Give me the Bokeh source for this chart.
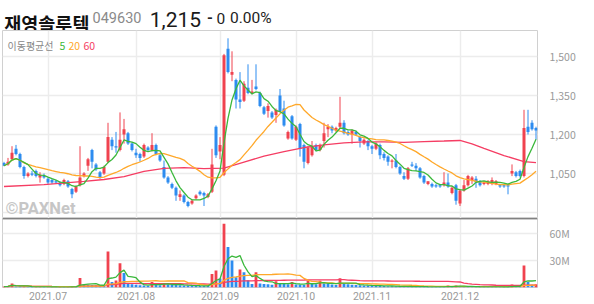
import numpy as np
import pandas as pd
from bokeh.plotting import figure
from bokeh.layouts import column
from bokeh.models import Range1d, FixedTicker, Span, ColumnDataSource, NumeralTickFormatter
from bokeh.core.properties import value
from bokeh.embed import file_html
from bokeh.resources import INLINE

# ---------------- data ----------------
stock_name = "재영솔루텍"
stock_code = "049630"
last_price = "1,215"
change_sign = "-"
change_abs = "0"
change_pct = "0.00%"
legend_title = "이동평균선"
ma_labels = ["5", "20", "60"]
watermark = "©PAXNet"

krx_holidays = ["2021-08-16", "2021-09-20", "2021-09-21", "2021-09-22",
                "2021-10-04", "2021-10-11"]
dates = pd.bdate_range("2021-06-16", "2021-12-28", freq="C", holidays=krx_holidays)

opens = [1090, 1085, 1105, 1145, 1125, 1075, 1040, 1050, 1060, 1035,
         1040, 1030, 1025, 1020, 1015, 1010, 1020, 990, 980, 1005,
         1040, 1080, 1140, 1085, 1055, 1050, 1095, 1180, 1155, 1140,
         1200, 1205, 1165, 1130, 1125, 1115, 1150, 1140, 1160, 1120,
         1075, 1035, 1010, 995, 960, 965, 940, 935, 955, 980,
         975, 960, 980, 1230, 1135, 1045, 1530, 1430, 1410, 1335,
         1330, 1380, 1360, 1385, 1360, 1305, 1290, 1285, 1275, 1350,
         1300, 1185, 1270, 1180, 1240, 1160, 1090, 1120, 1160, 1140,
         1175, 1220, 1230, 1215, 1230, 1245, 1210, 1200, 1210, 1190,
         1165, 1175, 1155, 1145, 1160, 1125, 1115, 1095, 1100, 1075,
         1040, 1030, 1085, 1080, 1070, 1040, 1010, 1010, 1005, 1005,
         1005, 1015, 975, 1005, 935, 985, 1005, 1025, 1030, 1020,
         1010, 1010, 1010, 1010, 1005, 1005, 1005, 1050, 1055, 1060,
         1040, 1230, 1245, 1225]
highs = [1095, 1110, 1155, 1160, 1130, 1080, 1055, 1060, 1065, 1055,
         1050, 1035, 1030, 1025, 1020, 1030, 1025, 995, 1005, 1155,
         1055, 1110, 1145, 1090, 1060, 1080, 1245, 1190, 1210, 1285,
         1260, 1210, 1170, 1145, 1130, 1165, 1155, 1205, 1165, 1125,
         1100, 1040, 1015, 1000, 985, 970, 945, 950, 970, 985,
         980, 975, 1145, 1235, 1190, 1510, 1570, 1520, 1415, 1440,
         1405, 1470, 1410, 1470, 1365, 1310, 1320, 1290, 1300, 1375,
         1330, 1215, 1275, 1235, 1245, 1165, 1155, 1175, 1165, 1165,
         1245, 1240, 1235, 1230, 1345, 1255, 1215, 1220, 1215, 1195,
         1185, 1180, 1160, 1170, 1165, 1132, 1120, 1105, 1125, 1080,
         1055, 1075, 1095, 1090, 1075, 1045, 1020, 1015, 1010, 1010,
         1055, 1050, 1000, 1010, 990, 1025, 1045, 1040, 1040, 1025,
         1020, 1025, 1035, 1025, 1010, 1010, 1010, 1085, 1060, 1065,
         1295, 1295, 1255, 1230]
lows = [1078, 1080, 1100, 1120, 1070, 1030, 1035, 1040, 1035, 1015,
        1030, 1010, 1010, 1010, 1000, 1005, 995, 955, 975, 1000,
        1035, 1060, 1070, 1060, 1030, 1045, 1090, 1140, 1130, 1135,
        1165, 1160, 1135, 1110, 1095, 1110, 1135, 1135, 1120, 1095,
        1030, 1010, 990, 945, 945, 935, 920, 930, 950, 965,
        925, 955, 975, 1110, 1105, 1040, 1435, 1405, 1300, 1300,
        1325, 1355, 1355, 1370, 1305, 1275, 1265, 1260, 1245, 1285,
        1230, 1180, 1180, 1175, 1115, 1070, 1085, 1115, 1135, 1135,
        1150, 1190, 1205, 1210, 1225, 1200, 1195, 1165, 1195, 1150,
        1160, 1140, 1125, 1140, 1105, 1100, 1080, 1070, 1070, 1045,
        1025, 1025, 1075, 1060, 1030, 1010, 1005, 995, 995, 995,
        1000, 995, 970, 930, 925, 980, 1000, 1010, 995, 1000,
        1005, 1005, 1005, 1005, 995, 995, 970, 1040, 1035, 1035,
        1035, 1200, 1215, 1180]
closes = [1080, 1095, 1130, 1125, 1075, 1040, 1050, 1045, 1040, 1045,
          1035, 1015, 1015, 1015, 1005, 1025, 1000, 970, 1000, 1035,
          1050, 1105, 1095, 1065, 1035, 1075, 1190, 1155, 1150, 1180,
          1220, 1165, 1140, 1120, 1110, 1160, 1140, 1160, 1125, 1100,
          1035, 1015, 995, 965, 970, 940, 925, 945, 965, 970,
          965, 970, 1085, 1120, 1160, 1505, 1440, 1440, 1335, 1325,
          1395, 1360, 1365, 1375, 1310, 1280, 1310, 1265, 1295, 1290,
          1235, 1210, 1185, 1230, 1145, 1095, 1150, 1155, 1140, 1160,
          1205, 1230, 1215, 1225, 1245, 1205, 1200, 1215, 1200, 1175,
          1180, 1155, 1145, 1165, 1120, 1110, 1095, 1100, 1075, 1050,
          1030, 1070, 1080, 1070, 1035, 1015, 1020, 1000, 1000, 1000,
          1015, 1000, 995, 945, 985, 1005, 1040, 1035, 1015, 1005,
          1015, 1020, 1025, 1020, 1000, 1000, 1000, 1060, 1040, 1040,
          1225, 1210, 1220, 1215]
volumes_m = [1.0, 1.5, 4.5, 1.2, 1.0, 1.2, 0.6, 0.5, 0.6, 0.8,
             0.5, 0.6, 0.4, 0.4, 0.5, 0.5, 0.6, 0.8, 0.7, 10.5,
             3.2, 3.0, 2.8, 2.5, 2.2, 2.0, 40.0, 6.0, 7.8, 27.0,
             16.0, 4.8, 3.5, 3.0, 2.5, 2.2, 2.0, 6.0, 3.0, 2.5,
             4.8, 3.5, 3.0, 2.8, 2.5, 2.3, 2.1, 2.0, 1.9, 1.8,
             1.7, 1.6, 15.0, 19.0, 10.0, 71.0, 45.0, 30.0, 11.5, 20.0,
             17.0, 8.0, 4.0, 17.0, 4.5, 3.8, 3.5, 3.0, 7.0, 4.5,
             3.8, 3.5, 6.0, 3.2, 3.0, 2.8, 7.8, 4.0, 3.5, 7.5,
             4.5, 3.8, 3.2, 2.8, 10.4, 4.5, 3.5, 3.0, 2.8, 2.5,
             2.3, 2.2, 2.0, 1.9, 1.8, 1.6, 1.5, 1.4, 1.3, 1.2,
             1.1, 1.0, 0.9, 0.9, 0.8, 0.8, 0.7, 0.7, 0.6, 0.6,
             0.6, 2.2, 1.0, 2.2, 1.2, 1.0, 0.9, 0.8, 0.8, 0.7,
             0.7, 0.6, 0.6, 0.6, 0.5, 0.5, 0.5, 3.3, 1.5, 1.2,
             24.4, 6.0, 3.0, 3.5]
ma60_idx = [0, 10, 20, 25, 30, 35, 40, 45, 50, 55, 60, 65, 70, 75, 80, 85,
            90, 95, 100, 105, 110, 114, 117, 120, 125, 130, 133]
ma60_val = [1000, 1007, 1020, 1027, 1038, 1058, 1070, 1073, 1069, 1071, 1094,
            1117, 1134, 1150, 1160, 1168, 1172, 1172, 1170, 1173, 1175, 1177,
            1164, 1147, 1119, 1096, 1092]

price_ticks = [900, 1050, 1200, 1350, 1500]
vol_ticks = [30, 60]

# ---------------- styles ----------------
UP = "#f0424f"
DOWN = "#2d8cf0"
C5 = "#3bb83b"
C20 = "#ffa82a"
C60 = "#f53d63"
GRID = "#ececec"
OUT = "#d0d0d0"
LBL = "#999999"
FONT = "Noto Sans CJK KR"
NUMFONT = "Roboto"

N = len(closes)
x = np.arange(N)
month_idx = [i for i in range(1, N) if dates[i].month != dates[i - 1].month]
month_lbl = {i: dates[i].strftime("%Y.%m") for i in month_idx}

W = 594
LB, RB = 2, 57
FW = W - LB - RB          # frame width in px
X0 = -0.375
X1 = X0 + FW / 4.0
P_TOP, P_BOT = 1600, 877
V_TOP = 76.7

def sx(px):
    return X0 + (px - LB) * (X1 - X0) / FW

def sy(py):  # price panel, py measured from top of page (frame top at 30, height 188)
    return P_TOP - (py - 30) * (P_TOP - P_BOT) / 188.0

# ---------------- header ----------------
h = figure(width=W, height=30, x_range=Range1d(0, W), y_range=Range1d(30, 0),
           x_axis_location=None, y_axis_location=None, toolbar_location=None,
           output_backend="svg", min_border=0, outline_line_color=None)
h.title.visible = False
h.grid.visible = False
h.text(x=[2], y=[22.5], text=[stock_name], text_font=value(FONT), text_font_size=value("18.5px"),
       text_font_style="bold", text_color="#111111", text_baseline="alphabetic")
h.text(x=[100], y=[16.5], text=[stock_code], text_font=value(NUMFONT), text_font_size=value("14.5px"),
       text_color="#8a8a8a", text_baseline="alphabetic")
h.text(x=[163.5], y=[18.5], text=[last_price], text_font=value(NUMFONT), text_font_size=value("21px"),
       text_color="#1a1a1a", text_baseline="alphabetic")
h.text(x=[227], y=[16.5], text=[change_sign], text_font=value(NUMFONT), text_font_size=value("15px"),
       text_font_style="bold", text_color="#222222", text_baseline="alphabetic")
h.text(x=[237.5], y=[17.5], text=[change_abs], text_font=value(NUMFONT), text_font_size=value("15.5px"),
       text_color="#222222", text_baseline="alphabetic")
h.text(x=[252.5], y=[17.5], text=[change_pct], text_font=value(NUMFONT), text_font_size=value("15.5px"),
       text_color="#222222", text_baseline="alphabetic")

# ---------------- price panel ----------------
p = figure(width=W, height=188, x_range=Range1d(X0, X1), y_range=Range1d(P_BOT, P_TOP),
           x_axis_location=None, y_axis_location="right", toolbar_location=None,
           output_backend="svg", min_border_left=LB, min_border_right=RB,
           min_border_top=0, min_border_bottom=0)
p.title.visible = False
p.outline_line_color = OUT
p.outline_line_width = 1
p.xgrid.ticker = FixedTicker(ticks=month_idx)
p.ygrid.ticker = FixedTicker(ticks=price_ticks)
p.grid.grid_line_color = GRID
p.grid.grid_line_width = 1.5
ax = p.yaxis[0]
ax.ticker = FixedTicker(ticks=price_ticks)
ax.formatter = NumeralTickFormatter(format="0,0")
ax.major_label_overrides = {900: ""}
ax.axis_line_color = None
ax.major_tick_line_color = None
ax.minor_tick_line_color = None
ax.major_label_standoff = 6
ax.major_label_text_color = LBL
ax.major_label_text_font = FONT
ax.major_label_text_font_size = "10.5px"

# watermark (drawn first, behind the candles)
p.text(x=[sx(5)], y=[sy(207.5)], text=[watermark], text_font=value(NUMFONT), text_font_size=value("16.5px"),
       text_font_style="bold", text_color="#c6c6c6", text_baseline="alphabetic")

col = [UP if c >= o else DOWN for o, c in zip(opens, closes)]
tops = [max(o, c) for o, c in zip(opens, closes)]
bots = [min(o, c) for o, c in zip(opens, closes)]
src = ColumnDataSource(dict(x=x, h=highs, l=lows, top=tops, bot=bots, color=col))
p.segment(x0="x", y0="l", x1="x", y1="h", line_color="color", line_width=1, source=src)
p.vbar(x="x", width=0.75, top="top", bottom="bot", fill_color="color", line_color=None, source=src)

cs = pd.Series(closes, dtype=float)
ma5 = cs.rolling(5, min_periods=1).mean()
ma20 = cs.rolling(20, min_periods=1).mean()
p.line(ma60_idx, ma60_val, line_color=C60, line_width=1.3)
p.line(x, ma20, line_color=C20, line_width=1.3)
p.line(x, ma5, line_color=C5, line_width=1.3)

# legend
p.text(x=[sx(7)], y=[sy(45)], text=[legend_title], text_font=value(FONT), text_font_size=value("10px"),
       text_color="#888888", text_baseline="alphabetic")
for lab, px_, c_ in zip(ma_labels, [59, 68, 83], [C5, C20, C60]):
    p.text(x=[sx(px_)], y=[sy(45)], text=[lab], text_font=value(FONT), text_font_size=value("10.5px"),
           text_color=c_, text_baseline="alphabetic")

# ---------------- volume panel ----------------
v = figure(width=W, height=86, x_range=p.x_range, y_range=Range1d(0, V_TOP),
           x_axis_location="below", y_axis_location="right", toolbar_location=None,
           output_backend="svg", min_border_left=LB, min_border_right=RB,
           min_border_top=0, min_border_bottom=17)
v.title.visible = False
v.outline_line_color = OUT
v.xgrid.ticker = FixedTicker(ticks=month_idx)
v.ygrid.ticker = FixedTicker(ticks=vol_ticks)
v.grid.grid_line_color = GRID
v.grid.grid_line_width = 1.5
vy = v.yaxis[0]
vy.ticker = FixedTicker(ticks=vol_ticks)
vy.major_label_overrides = {t: f"{t}M" for t in vol_ticks}
vx = v.xaxis[0]
vx.ticker = FixedTicker(ticks=month_idx)
vx.major_label_overrides = month_lbl
vx.major_label_standoff = -2
vy.major_label_standoff = 6
for a in (vx, vy):
    a.axis_line_color = None
    a.major_tick_line_color = None
    a.minor_tick_line_color = None
    a.major_label_text_color = LBL
    a.major_label_text_font_size = "10.5px"
vy.major_label_text_font = FONT
vx.major_label_text_font = NUMFONT

vs = pd.Series(volumes_m, dtype=float)
vcol = [UP] + [UP if volumes_m[i] > volumes_m[i - 1] else DOWN for i in range(1, N)]
vsrc = ColumnDataSource(dict(x=x, v=volumes_m, color=vcol))
v.vbar(x="x", width=0.7, top="v", bottom=0, fill_color="color", line_color=None, source=vsrc)
v.line(x, vs.rolling(60, min_periods=1).mean(), line_color=C60, line_width=1.3)
v.line(x, vs.rolling(20, min_periods=1).mean(), line_color=C20, line_width=1.3)
v.line(x, vs.rolling(5, min_periods=1).mean(), line_color=C5, line_width=1.3)
v.add_layout(Span(location=V_TOP, dimension="width", line_color="#333333", line_width=1.5))

layout = column(h, p, v)
open("out.html", "w").write(file_html(layout, INLINE))
